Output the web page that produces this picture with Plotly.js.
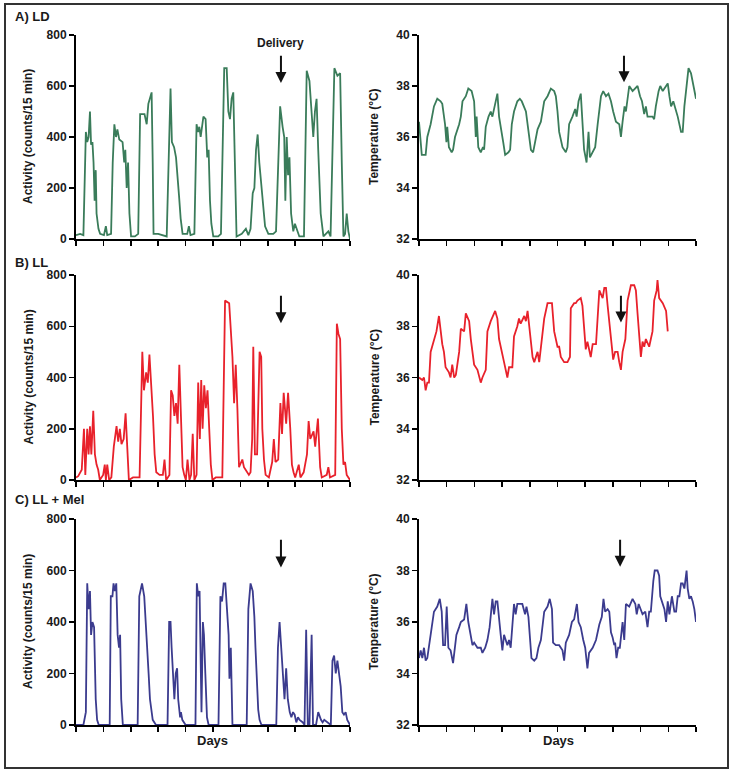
<!DOCTYPE html>
<html>
<head>
<meta charset="utf-8">
<script src="https://cdn.plot.ly/plotly-3.0.1.min.js"></script>
<style>html,body{margin:0;padding:0;background:#fff;}#chart{width:733px;height:773px;}</style>
</head>
<body>
<div id="chart"></div>
<script>
// ---------- DATA (days, values) ----------
const ldActDays = [0.00,0.15,0.27,0.33,0.36,0.41,0.46,0.51,0.55,0.60,0.64,0.68,0.72,0.75,0.82,0.88,1.02,1.09,1.14,1.28,1.34,1.40,1.46,1.51,1.58,1.70,1.76,1.80,1.85,1.90,1.95,2.01,2.15,2.27,2.34,2.50,2.58,2.64,2.70,2.76,2.80,2.83,3.00,3.19,3.31,3.38,3.45,3.50,3.58,3.65,3.71,3.76,3.82,3.89,4.06,4.12,4.18,4.32,4.40,4.45,4.50,4.55,4.65,4.73,4.79,4.84,4.89,4.94,5.01,5.19,5.29,5.41,5.50,5.56,5.62,5.68,5.74,5.80,5.86,6.05,6.20,6.29,6.37,6.45,6.51,6.57,6.63,6.69,6.75,6.81,6.90,7.02,7.20,7.30,7.45,7.54,7.60,7.64,7.69,7.74,7.79,7.85,7.93,7.99,8.05,8.15,8.32,8.42,8.52,8.60,8.66,8.72,8.78,8.84,8.93,9.03,9.21,9.29,9.43,9.54,9.64,9.70,9.76,9.82,9.88,9.94,10.00];
const ldAct = [15,20,15,300,420,380,400,500,370,380,300,150,270,100,40,20,15,50,15,20,300,450,400,430,390,380,300,350,200,300,100,10,10,20,490,490,450,530,550,575,300,20,20,15,10,300,590,380,360,320,250,170,80,20,20,50,15,20,450,420,440,400,480,470,320,350,150,60,10,10,20,670,670,500,470,550,575,300,10,20,40,15,40,180,200,350,410,300,220,150,50,20,20,30,520,440,400,150,400,250,320,100,30,60,40,10,10,660,620,480,400,500,550,350,100,10,30,10,670,640,650,300,10,20,100,30,0];

const ldTempDays = [0.00,0.10,0.24,0.30,0.42,0.54,0.66,0.78,0.84,0.94,0.99,1.02,1.08,1.18,1.23,1.30,1.45,1.51,1.57,1.69,1.78,1.90,1.99,2.05,2.08,2.14,2.23,2.31,2.35,2.41,2.51,2.59,2.65,2.75,2.83,2.89,2.99,3.04,3.11,3.23,3.29,3.35,3.43,3.55,3.64,3.71,3.86,3.92,4.04,4.12,4.19,4.28,4.40,4.52,4.64,4.76,4.88,4.94,5.00,5.06,5.18,5.30,5.36,5.42,5.54,5.64,5.69,5.76,5.84,5.90,5.96,6.05,6.12,6.17,6.27,6.36,6.45,6.51,6.57,6.65,6.75,6.84,6.93,7.01,7.11,7.23,7.29,7.35,7.42,7.47,7.53,7.59,7.71,7.89,7.98,8.05,8.13,8.19,8.25,8.43,8.49,8.55,8.65,8.71,8.80,8.98,9.04,9.10,9.18,9.34,9.46,9.52,9.58,9.66,9.73,9.82,9.90,10.00];
const ldTemp = [36.6,35.3,35.3,36.0,36.5,37.2,37.5,37.4,37.3,36.5,35.8,36.4,35.6,35.4,35.5,36.0,36.5,36.8,37.4,37.6,37.9,37.8,37.4,36.0,36.8,35.6,35.4,35.6,35.5,36.4,36.8,37.0,36.8,37.3,37.7,36.8,36.0,35.8,35.3,35.4,35.5,36.5,37.0,37.4,37.5,37.4,37.0,36.5,35.5,35.4,35.8,36.3,36.6,37.4,37.6,37.9,37.8,37.6,37.0,36.2,35.6,35.4,35.6,36.5,36.8,37.1,36.8,37.4,37.7,36.5,35.5,35.0,36.2,35.2,35.4,35.6,36.5,37.2,37.6,37.8,37.6,37.7,37.4,37.0,36.6,36.5,36.0,36.6,37.2,37.0,37.6,38.0,37.8,38.0,37.6,37.4,36.9,37.2,36.8,36.8,36.7,37.2,37.8,38.0,37.8,38.1,37.6,37.2,37.4,36.8,36.2,36.2,37.2,38.0,38.7,38.5,38.0,37.5];

const llActDays = [0.00,0.08,0.21,0.29,0.34,0.41,0.46,0.51,0.56,0.63,0.69,0.75,0.81,0.87,0.99,1.05,1.09,1.14,1.21,1.29,1.38,1.48,1.54,1.60,1.66,1.74,1.81,1.87,1.93,2.08,2.32,2.42,2.48,2.56,2.62,2.68,2.76,2.81,2.87,2.93,3.05,3.17,3.23,3.29,3.41,3.47,3.53,3.59,3.65,3.71,3.77,3.83,3.89,3.95,4.01,4.07,4.14,4.20,4.26,4.32,4.40,4.46,4.52,4.57,4.62,4.68,4.74,4.80,4.86,4.92,4.98,5.10,5.34,5.44,5.59,5.71,5.77,5.83,5.89,5.95,6.07,6.13,6.19,6.31,6.37,6.43,6.47,6.53,6.61,6.70,6.76,6.80,6.86,6.92,7.04,7.16,7.22,7.28,7.38,7.46,7.52,7.58,7.67,7.74,7.82,7.88,7.94,8.00,8.13,8.19,8.31,8.43,8.49,8.55,8.67,8.73,8.83,8.91,8.97,9.15,9.21,9.27,9.46,9.52,9.58,9.64,9.70,9.76,9.82,9.88,10.00];
const llAct = [10,15,40,200,20,200,100,210,100,270,100,60,40,0,20,60,0,60,0,10,130,210,150,200,140,160,260,100,0,10,10,500,350,420,380,490,350,250,100,30,20,20,80,0,20,350,330,250,300,220,450,220,50,20,0,80,0,20,180,0,20,380,160,390,200,370,280,350,200,60,0,10,10,700,690,480,300,450,280,50,80,50,40,20,30,160,520,100,100,500,480,200,80,20,10,70,160,70,80,300,180,340,220,340,200,60,30,10,60,10,30,100,230,160,190,130,240,50,10,20,50,10,20,610,570,550,200,60,70,20,0];

const llTempDays = [0.00,0.12,0.18,0.24,0.30,0.36,0.42,0.54,0.63,0.72,0.78,0.84,0.90,0.96,1.08,1.14,1.20,1.27,1.33,1.45,1.51,1.63,1.69,1.81,1.87,1.99,2.11,2.23,2.29,2.41,2.47,2.59,2.75,2.83,2.89,3.01,3.07,3.19,3.25,3.37,3.43,3.55,3.61,3.67,3.80,3.86,3.92,3.98,4.04,4.10,4.16,4.28,4.34,4.40,4.52,4.64,4.80,4.88,5.00,5.06,5.12,5.24,5.36,5.45,5.48,5.60,5.66,5.72,5.84,5.90,5.96,6.02,6.08,6.20,6.27,6.39,6.51,6.63,6.69,6.75,6.81,6.87,6.93,7.01,7.08,7.17,7.23,7.29,7.35,7.45,7.53,7.65,7.77,7.83,7.89,7.95,8.01,8.07,8.13,8.19,8.31,8.37,8.43,8.49,8.58,8.61,8.67,8.80,8.92,8.98];
const llTemp = [36.0,35.9,36.0,35.5,35.8,35.8,37.0,37.5,37.8,38.4,37.8,37.3,37.0,36.4,36.2,36.0,36.5,36.0,36.1,37.0,37.9,37.8,38.5,38.2,37.5,36.5,36.3,35.8,36.0,36.3,37.8,38.2,38.6,38.3,37.5,36.8,36.6,36.0,36.4,36.4,37.6,38.0,38.3,38.1,38.4,38.2,38.6,38.0,37.4,36.8,36.6,37.0,36.6,37.1,38.3,38.9,38.9,37.8,37.2,37.2,36.8,36.6,36.6,36.8,38.7,38.9,38.9,39.0,39.1,38.8,37.8,37.1,37.4,36.8,37.3,37.3,39.4,39.1,39.5,39.5,38.8,38.2,37.6,36.7,37.0,37.0,36.6,36.3,37.0,37.5,39.0,39.6,39.6,39.4,38.5,37.5,36.8,37.4,37.2,37.5,37.2,37.5,37.8,39.0,39.4,39.8,39.1,38.9,38.6,37.8];

const melActDays = [0.00,0.27,0.36,0.41,0.46,0.51,0.55,0.60,0.66,0.72,0.77,0.83,1.23,1.27,1.33,1.37,1.42,1.47,1.52,1.57,1.61,1.65,1.71,2.25,2.31,2.41,2.49,2.55,2.61,2.65,2.70,2.75,2.80,2.92,3.34,3.40,3.45,3.49,3.54,3.59,3.64,3.69,3.73,3.80,3.83,3.88,4.00,4.36,4.41,4.46,4.51,4.54,4.58,4.63,4.67,4.72,4.78,4.84,5.20,5.27,5.33,5.39,5.45,5.51,5.57,5.60,5.65,5.71,6.23,6.29,6.37,6.45,6.51,6.55,6.60,6.65,6.70,6.77,7.31,7.37,7.43,7.49,7.55,7.61,7.67,7.73,7.80,7.86,7.92,7.98,8.04,8.10,8.16,8.28,8.34,8.40,8.46,8.52,8.60,8.65,8.76,8.84,8.94,9.00,9.06,9.18,9.30,9.36,9.42,9.48,9.54,9.60,9.66,9.72,9.78,9.84,9.90,10.00];
const melAct = [0,0,50,550,450,520,350,400,380,100,20,0,0,500,500,550,520,550,350,300,350,100,0,0,500,550,500,400,300,200,100,50,20,0,0,400,400,300,180,100,200,220,100,30,50,20,0,0,550,500,520,300,50,400,350,200,30,0,0,500,480,550,550,450,350,180,300,0,0,450,550,520,420,300,200,60,20,0,0,300,400,300,200,100,220,100,50,30,50,40,10,30,20,10,0,370,0,0,350,0,0,50,20,10,20,10,0,250,270,200,250,200,150,50,40,50,20,0];

const melTempDays = [0.00,0.06,0.12,0.18,0.24,0.30,0.42,0.54,0.66,0.75,0.82,0.87,0.94,1.00,1.06,1.14,1.23,1.30,1.35,1.45,1.51,1.63,1.71,1.78,1.87,1.93,1.99,2.11,2.23,2.29,2.39,2.47,2.55,2.65,2.71,2.77,2.83,2.89,2.95,3.01,3.07,3.13,3.19,3.25,3.31,3.43,3.49,3.55,3.73,3.83,3.88,3.95,4.01,4.06,4.16,4.24,4.31,4.40,4.52,4.64,4.72,4.80,4.84,4.94,5.06,5.18,5.24,5.30,5.42,5.52,5.60,5.70,5.76,5.84,5.93,6.00,6.08,6.14,6.27,6.39,6.51,6.60,6.66,6.72,6.81,6.87,6.93,6.99,7.05,7.08,7.13,7.19,7.25,7.29,7.35,7.41,7.47,7.59,7.71,7.81,7.86,7.93,8.01,8.07,8.17,8.25,8.31,8.37,8.46,8.51,8.61,8.67,8.71,8.80,8.86,8.92,8.98,9.04,9.13,9.22,9.28,9.34,9.40,9.46,9.52,9.58,9.66,9.70,9.76,9.82,9.88,9.94,10.00];
const melTemp = [34.6,34.9,34.6,35.0,34.5,34.6,35.5,36.4,36.6,36.9,36.4,35.1,35.1,36.6,35.0,34.9,34.4,35.0,35.5,35.8,36.0,36.1,36.7,36.0,35.5,35.1,35.2,35.0,35.0,34.8,35.0,35.3,35.8,36.9,36.3,36.8,36.8,36.0,35.5,34.9,35.5,35.3,35.1,35.3,35.0,36.7,36.3,36.7,36.7,36.3,36.6,36.2,35.3,34.6,34.5,34.6,35.0,35.3,36.4,36.6,36.9,36.5,35.2,35.1,35.1,34.9,34.5,35.2,35.5,36.0,36.1,36.7,36.0,35.8,35.3,35.0,34.2,34.8,35.0,35.3,35.9,36.2,36.9,36.4,36.5,36.4,35.6,35.4,35.1,35.2,34.6,35.0,35.0,35.5,36.0,35.3,36.7,36.6,36.9,36.7,36.3,36.7,36.5,36.3,36.4,35.8,36.4,36.4,37.6,38.0,38.0,37.8,37.0,36.7,36.5,36.0,36.8,36.3,37.0,36.4,36.4,37.0,37.0,37.5,37.5,37.3,38.0,37.3,36.9,37.0,36.8,36.5,36.0];

const panelLabels = ["A) LD", "B) LL", "C) LL + Mel"];
const actTicks = [0, 200, 400, 600, 800];
const tempTicks = [32, 34, 36, 38, 40];
const dayTicks = [0,1,2,3,4,5,6,7,8,9,10];
// delivery arrows: [day on activity axis, day on temperature axis]
const deliveryActDay = [7.48, 7.48, 7.48];
const deliveryTempDay = [7.40, 7.29, 7.26];

// ---------- STYLE ----------
const W = 733, H = 773;
const colors = ["#3a7c5a", "#e8212b", "#3b3b8e"];
const FONT = "Liberation Sans, Arial, Helvetica, sans-serif";
const px = v => v / W;
const py = v => 1 - v / H;
const leftDom = [px(76), px(350)];
const rightDom = [px(419), px(696)];
const rows = [[35, 239], [275, 480], [519, 725]];

const traces = [];
const layout = {
  width: W, height: H,
  margin: {l: 0, r: 0, t: 0, b: 0},
  paper_bgcolor: "#fff", plot_bgcolor: "rgba(0,0,0,0)",
  showlegend: false,
  annotations: [], shapes: []
};

const actData = [[ldActDays, ldAct], [llActDays, llAct], [melActDays, melAct]];
const tempData = [[ldTempDays, ldTemp], [llTempDays, llTemp], [melTempDays, melTemp]];

function axisCommon(dom) {
  return {
    domain: dom, showgrid: false, zeroline: false,
    showline: true, linecolor: "#000", linewidth: 2,
    ticks: "outside", ticklen: 5, tickwidth: 1.5, tickcolor: "#000",
    tickfont: {family: FONT, size: 12, color: "#1a1a1a", weight: "bold"},
    fixedrange: true
  };
}
const axName = i => (i === 1 ? "" : String(i));

for (let r = 0; r < 3; r++) {
  const yDom = [py(rows[r][1]), py(rows[r][0])];
  const ia = 2 * r + 1, it = 2 * r + 2;
  const xa = "x" + axName(ia), ya = "y" + axName(ia), xt = "x" + axName(it), yt = "y" + axName(it);
  traces.push({x: actData[r][0], y: actData[r][1], xaxis: xa, yaxis: ya, type: "scatter", mode: "lines",
    line: {color: colors[r], width: 1.8}, hoverinfo: "skip"});
  traces.push({x: tempData[r][0], y: tempData[r][1], xaxis: xt, yaxis: yt, type: "scatter", mode: "lines",
    line: {color: colors[r], width: 1.8}, hoverinfo: "skip"});

  layout["xaxis" + axName(ia)] = Object.assign(axisCommon(leftDom), {anchor: ya, range: [0, 10], tickvals: dayTicks, showticklabels: false});
  layout["yaxis" + axName(ia)] = Object.assign(axisCommon(yDom), {anchor: xa, range: [0, 800], tickvals: actTicks});
  layout["xaxis" + axName(it)] = Object.assign(axisCommon(rightDom), {anchor: yt, range: [0, 10], tickvals: dayTicks, showticklabels: false});
  layout["yaxis" + axName(it)] = Object.assign(axisCommon(yDom), {anchor: xt, range: [32, 40], tickvals: tempTicks});

  const midY = py((rows[r][0] + rows[r][1]) / 2);
  layout.annotations.push({text: "Activity (counts/15 min)", xref: "paper", yref: "paper", x: px(28), y: midY,
    textangle: -90, showarrow: false, xanchor: "center", yanchor: "middle",
    font: {family: FONT, size: 12, color: "#1a1a1a", weight: "bold"}});
  layout.annotations.push({text: "Temperature (°C)", xref: "paper", yref: "paper", x: px(374), y: midY,
    textangle: -90, showarrow: false, xanchor: "center", yanchor: "middle",
    font: {family: FONT, size: 12, color: "#1a1a1a", weight: "bold"}});

  // panel label
  const labY = [17, 262, 500][r];
  layout.annotations.push({text: panelLabels[r], xref: "paper", yref: "paper", x: px(13), y: py(labY),
    showarrow: false, xanchor: "left", yanchor: "middle",
    font: {family: FONT, size: 13, color: "#1a1a1a", weight: "bold"}});

  // delivery arrows
  layout.annotations.push({xref: xa, yref: ya, axref: xa, ayref: ya, x: deliveryActDay[r], y: 612,
    ax: deliveryActDay[r], ay: 725, text: "", showarrow: true, arrowhead: 2, arrowsize: 1.1, arrowwidth: 2, arrowcolor: "#111"});
  layout.annotations.push({xref: xt, yref: yt, axref: xt, ayref: yt, x: deliveryTempDay[r], y: 38.15,
    ax: deliveryTempDay[r], ay: 39.25, text: "", showarrow: true, arrowhead: 2, arrowsize: 1.1, arrowwidth: 2, arrowcolor: "#111"});
}

layout.annotations.push({text: "Delivery", xref: "x", yref: "paper", x: deliveryActDay[0], y: py(43),
  showarrow: false, xanchor: "center", yanchor: "middle", font: {family: FONT, size: 12, color: "#1a1a1a", weight: "bold"}});
layout.annotations.push({text: "Days", xref: "paper", yref: "paper", x: px(213), y: py(740),
  showarrow: false, xanchor: "center", yanchor: "middle", font: {family: FONT, size: 13, color: "#1a1a1a", weight: "bold"}});
layout.annotations.push({text: "Days", xref: "paper", yref: "paper", x: px(558), y: py(740),
  showarrow: false, xanchor: "center", yanchor: "middle", font: {family: FONT, size: 13, color: "#1a1a1a", weight: "bold"}});

layout.shapes.push({type: "rect", xref: "paper", yref: "paper", x0: px(5), x1: px(728), y0: py(768), y1: py(4),
  line: {color: "#333", width: 2}, fillcolor: "rgba(0,0,0,0)"});

Plotly.newPlot("chart", traces, layout, {staticPlot: true, displayModeBar: false});
</script>
</body>
</html>
